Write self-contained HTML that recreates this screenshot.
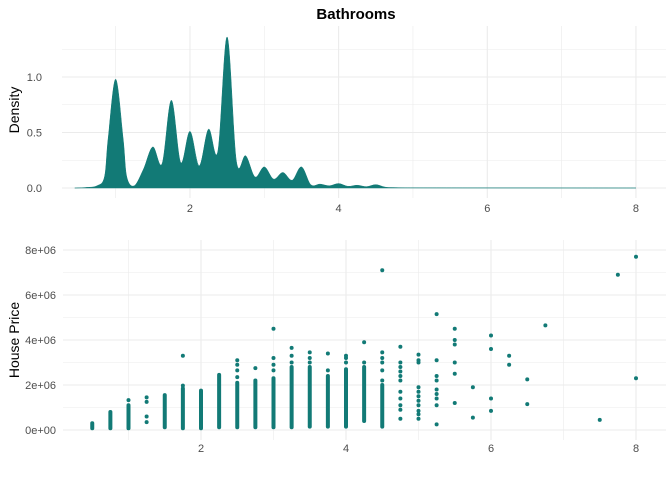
<!DOCTYPE html>
<html><head><meta charset="utf-8"><style>
body{margin:0;background:#fff;}
svg text{font-family:"Liberation Sans",sans-serif;}
</style></head><body>
<svg id="c" width="672" height="480" xmlns="http://www.w3.org/2000/svg">
<text x="356" y="19" text-anchor="middle" font-size="15" font-weight="bold" fill="#000">Bathrooms</text>
<text transform="translate(19,110) rotate(-90)" text-anchor="middle" font-size="14" fill="#000">Density</text>
<text transform="translate(19,340) rotate(-90)" text-anchor="middle" font-size="14" fill="#000">House Price</text>
<g id="topPanel"></g><g id="botPanel"></g>
</svg>
<script>
// density panel data
const densX = [0.45,0.6,0.75,0.85,0.9,1.0,1.1,1.15,1.25,1.375,1.5,1.625,1.75,1.875,2.0,2.125,2.25,2.375,2.5,2.625,2.75,2.875,3.0,3.125,3.25,3.375,3.5,3.625,3.75,3.875,4.0,4.125,4.25,4.375,4.5,4.625,4.75,5.0,6.0,7.0,8.0];
const densY = [0.0,0.005,0.02,0.1,0.45,0.98,0.45,0.1,0.02,0.17,0.37,0.22,0.79,0.23,0.51,0.2,0.53,0.33,1.36,0.24,0.29,0.1,0.19,0.08,0.14,0.07,0.19,0.03,0.035,0.02,0.04,0.015,0.025,0.012,0.03,0.008,0.004,0.002,0.001,0.0005,0.0];
const densTicks = [0,0.5,1.0];
const densTickLabels = ["0.0","0.5","1.0"];
const xTicks = [2,4,6,8];
// scatter data: bathrooms, dense band low/high (millions), extra points
const bathVals = [0.5,0.75,1,1.25,1.5,1.75,2,2.25,2.5,2.75,3,3.25,3.5,3.75,4,4.25,4.5,4.75,5,5.25,5.5,5.75,6,6.25,6.5,6.75,7.5,7.75,8];
const bandLo = [0.08,0.08,0.08,null,0.12,0.08,0.08,0.12,0.12,0.12,0.12,0.12,0.15,0.15,0.15,0.4,0.15,null,null,null,null,null,null,null,null,null,null,null,null];
const bandHi = [0.3,0.8,1.1,null,1.55,1.85,1.75,2.45,2.1,2.2,2.3,2.8,2.8,2.4,2.7,2.8,2.0,null,null,null,null,null,null,null,null,null,null,null,null];
const extraPts = [[],[],[1.33],[1.45,1.25,0.6,0.35],[],[1.97,3.3],[],[],[3.1,2.9,2.65,2.35],[2.75],[3.2,2.9,2.65,4.5],[3.65,3.3,3.0],[3.45,3.2,3.0],[3.4,2.65],[3.3,3.2,3.0],[3.9,3.0],[7.1,3.45,3.2,3.0,2.65,2.2],[3.7,3.0,2.8,2.6,2.4,2.2,1.7,1.4,1.1,0.9,0.5],[3.35,3.1,3.0,1.9,1.7,1.5,1.3,1.1,0.85,0.7,0.5],[5.15,3.1,2.4,2.2,1.8,1.6,1.4,1.1,0.25],[4.5,4.0,3.8,3.0,2.5,1.2],[1.9,0.55],[4.2,3.6,1.4,0.85],[3.3,2.9],[2.25,1.15],[4.65],[0.45],[6.9],[7.7,2.3]];
const priceTicks = [0,2,4,6,8];
const priceTickLabels = ["0e+00","2e+06","4e+06","6e+06","8e+06"];

const NS="http://www.w3.org/2000/svg";
function mk(tag,attrs,parent){const e=document.createElementNS(NS,tag);for(const k in attrs)e.setAttribute(k,attrs[k]);parent.appendChild(e);return e;}
const COL="#127a76", GRID="#ebebeb", TXT="#4d4d4d";
const gTop=document.getElementById('topPanel'), gBot=document.getElementById('botPanel');
const tx=v=>41.3+74.33*v, ty=v=>188-111*v;
const bx=v=>56+72.5*v, by=v=>430-22.5*v;
// top grid
for(const v of [0.25,0.75,1.25]){const l=mk('line',{x1:62,x2:666,y1:ty(v),y2:ty(v),stroke:GRID,'stroke-width':0.6},gTop);

}
for(const v of [1,3,5,7]){const l=mk('line',{x1:tx(v),x2:tx(v),y1:26,y2:198,stroke:GRID,'stroke-width':0.6},gTop);

}
densTicks.forEach((v,i)=>{const l=mk('line',{x1:62,x2:666,y1:ty(v),y2:ty(v),stroke:GRID,'stroke-width':1.1},gTop);


const t=mk('text',{x:42,y:ty(v)+4,'text-anchor':'end','font-size':11,fill:TXT},gTop);t.textContent=densTickLabels[i];

});
xTicks.forEach(v=>{const l=mk('line',{x1:tx(v),x2:tx(v),y1:26,y2:198,stroke:GRID,'stroke-width':1.1},gTop);


const t=mk('text',{x:tx(v),y:212,'text-anchor':'middle','font-size':11,fill:TXT},gTop);t.textContent=v;

});
// density path (catmull-rom)
let d=`M${tx(densX[0])},${ty(0)} L${tx(densX[0])},${ty(densY[0])}`;
for(let i=0;i<densX.length-1;i++){
 const a=Math.max(0,i-1), z=Math.min(densX.length-1,i+2);
 const p0=[tx(densX[a]),ty(densY[a])],p1=[tx(densX[i]),ty(densY[i])],p2=[tx(densX[i+1]),ty(densY[i+1])],p3=[tx(densX[z]),ty(densY[z])];
 let c1y=p1[1]+(p2[1]-p0[1])/6, c2y=p2[1]-(p3[1]-p1[1])/6;
 c1y=Math.min(c1y,ty(0));c2y=Math.min(c2y,ty(0));
 d+=` C${p1[0]+(p2[0]-p0[0])/6},${c1y} ${p2[0]-(p3[0]-p1[0])/6},${c2y} ${p2[0]},${p2[1]}`;
}
d+=` L${tx(densX[densX.length-1])},${ty(0)} Z`;
const area=mk('path',{d:d,fill:COL,stroke:COL,'stroke-width':0.5},gTop);


// bottom grid
for(const v of [1,3,5,7]){const l=mk('line',{x1:63,x2:666,y1:by(v),y2:by(v),stroke:GRID,'stroke-width':0.6},gBot);


const l2=mk('line',{x1:bx(v),x2:bx(v),y1:240,y2:440,stroke:GRID,'stroke-width':0.6},gBot);

}
priceTicks.forEach((v,i)=>{const l=mk('line',{x1:63,x2:666,y1:by(v),y2:by(v),stroke:GRID,'stroke-width':1.1},gBot);


const t=mk('text',{x:56,y:by(v)+4,'text-anchor':'end','font-size':11,fill:TXT},gBot);t.textContent=priceTickLabels[i];

});
xTicks.forEach(v=>{const l=mk('line',{x1:bx(v),x2:bx(v),y1:240,y2:440,stroke:GRID,'stroke-width':1.1},gBot);


const t=mk('text',{x:bx(v),y:452,'text-anchor':'middle','font-size':11,fill:TXT},gBot);t.textContent=v;

});
// scatter
bathVals.forEach((b,i)=>{
 if(bandLo[i]!==null){const r=mk('rect',{x:bx(b)-2,y:by(bandHi[i])-2,width:4,height:by(bandLo[i])-by(bandHi[i])+4,rx:2,fill:COL},gBot);
 
 }
 extraPts[i].forEach(p=>{const c=mk('circle',{cx:bx(b),cy:by(p),r:2,fill:COL},gBot);
 
 });
});
</script>
</body></html>
